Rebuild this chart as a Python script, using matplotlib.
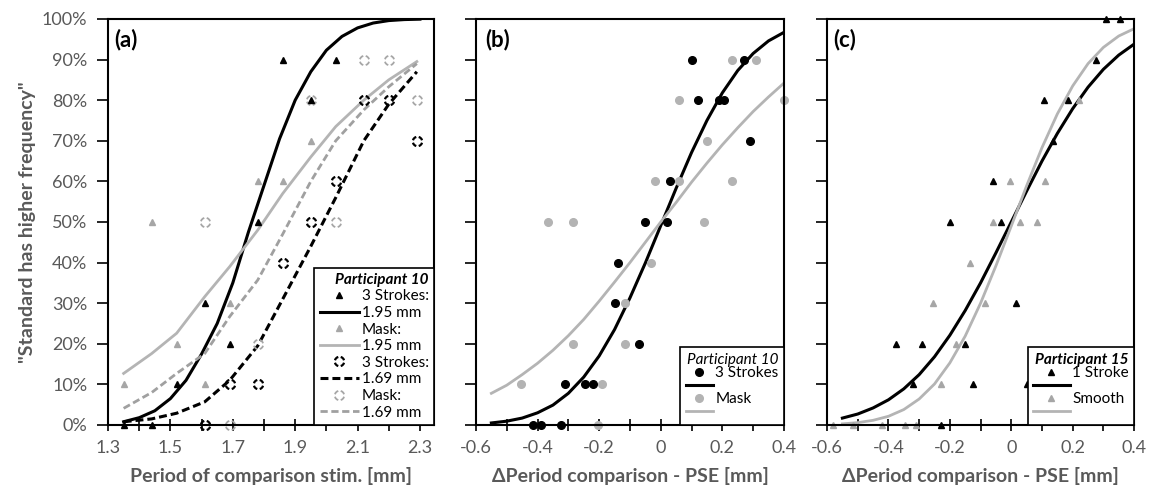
import numpy as np
import matplotlib
matplotlib.use('Agg')
import matplotlib.pyplot as plt
from matplotlib.path import Path
from matplotlib.ticker import PercentFormatter, FuncFormatter

plt.rcParams['font.family'] = ['Lato', 'DejaVu Sans']
plt.rcParams['axes.unicode_minus'] = False

GRAY_TXT = '#595959'
GRAY_MK = '#a6a6a6'
GRAY_LN = '#b4b4b4'
GRAY_DASH = '#a0a0a0'

# ---------------- panel (a) data ----------------
a_tri_x = [1.35, 1.44, 1.52, 1.61, 1.69, 1.78, 1.86, 1.95, 2.03]
a_tri_y = [0, 0, 10, 30, 20, 50, 90, 80, 90]
a_gtri_x = [1.35, 1.44, 1.52, 1.61, 1.69, 1.78, 1.86, 1.95]
a_gtri_y = [10, 50, 20, 10, 30, 60, 60, 70]
a_circ_x = [1.61, 1.69, 1.78, 1.86, 1.95, 2.03, 2.12, 2.20, 2.29]
a_circ_y = [0, 10, 10, 40, 50, 60, 80, 80, 70]
a_gcirc_x = [1.61, 1.69, 1.78, 1.95, 2.03, 2.12, 2.20, 2.29]
a_gcirc_y = [50, 0, 20, 80, 50, 90, 90, 80]

# fitted curves
a_fit1_x = [1.35, 1.40, 1.45, 1.50, 1.55, 1.60, 1.65, 1.70, 1.75, 1.80,
            1.85, 1.90, 1.95, 2.00, 2.05, 2.10, 2.15, 2.20, 2.25, 2.30]
a_fit1_y = [0.8, 1.8, 3.5, 6.5, 11, 17.5, 25, 35, 47.5, 59,
            70.5, 80, 87, 92.3, 95.7, 97.8, 99, 99.6, 99.85, 99.95]
a_fit_x = [1.35, 1.44, 1.52, 1.61, 1.69, 1.78, 1.86, 1.95, 2.03, 2.12, 2.20, 2.29]
a_fit2_y = [12.7, 17.6, 22.6, 31.6, 39, 48, 57, 66, 73.5, 80, 85, 89.5]   # mask 1.95
a_fit3_y = [0.8, 1.5, 2.9, 5.7, 11, 19.5, 31, 44, 56, 70, 79, 87]       # 3 strokes 1.69
a_fit4_y = [4.1, 8, 12.7, 17.6, 26.7, 35.7, 47, 60, 70, 77.6, 83.3, 89]  # mask 1.69

# ---------------- panel (b) data ----------------
b_blk_x = [0.10, 0.27, 0.12, 0.19, 0.205, 0.29, 0.03, -0.05, 0.02, -0.14,
           -0.15, -0.07, -0.31, -0.245, -0.22, -0.415, -0.39, -0.325]
b_blk_y = [90, 90, 80, 80, 80, 70, 60, 50, 50, 40, 30, 20, 10, 10, 10, 0, 0, 0]
b_gry_x = [0.23, 0.31, 0.06, 0.40, 0.15, -0.02, 0.06, 0.23, -0.365, -0.285,
           0.14, -0.03, -0.115, -0.115, -0.285, -0.455, -0.19, -0.205]
b_gry_y = [90, 90, 80, 80, 70, 60, 60, 60, 50, 50, 50, 40, 30, 20, 20, 10, 10, 0]

fit_x = [-0.55, -0.50, -0.45, -0.40, -0.35, -0.30, -0.25, -0.20, -0.15, -0.10,
         -0.05, 0.00, 0.05, 0.10, 0.15, 0.20, 0.25, 0.30, 0.35, 0.40]
b_fit_blk = [0.5, 0.94, 1.7, 3.0, 4.9, 7.8, 11.8, 17.0, 23.5, 31.3,
             39.9, 49.1, 58.3, 67.1, 75.0, 81.8, 87.3, 91.5, 94.6, 96.7]
b_fit_gry = [7.8, 9.8, 12.4, 15.2, 18.4, 22.0, 26.0, 30.5, 35.2, 40.0,
             45.0, 50.0, 54.8, 59.8, 64.5, 69.0, 73.2, 77.2, 80.8, 84.2]

# ---------------- panel (c) data ----------------
c_blk_x = [0.31, 0.355, 0.275, 0.105, 0.185, 0.135, -0.06, -0.20, -0.035,
           0.015, -0.375, -0.29, -0.15, -0.32, -0.125, 0.05, -0.23]
c_blk_y = [100, 100, 90, 80, 80, 70, 60, 50, 50, 30, 20, 20, 20, 10, 10, 10, 0]
c_gry_x = [0.22, -0.005, 0.11, -0.06, 0.03, 0.085, -0.135, -0.255, -0.085,
           -0.18, -0.23, -0.58, -0.515, -0.42, -0.345, -0.31]
c_gry_y = [80, 60, 60, 50, 50, 50, 40, 30, 30, 20, 10, 0, 0, 0, 0, 0]

c_fit_blk = [1.7, 2.7, 4.2, 6.2, 8.9, 12.4, 16.8, 22.1, 28.2, 35.0,
             42.4, 50.0, 57.6, 65.0, 71.8, 77.9, 83.2, 87.6, 91.1, 93.8]
c_fit_gry = [0.28, 0.58, 1.15, 2.14, 3.8, 6.4, 10.1, 15.3, 21.9, 30.0,
             39.2, 49.0, 58.9, 68.3, 76.6, 83.5, 89.0, 93.0, 95.8, 97.6]

a_ticks = [1.3, 1.5, 1.7, 1.9, 2.1, 2.3]
a_minor = [1.4, 1.6, 1.8, 2.0, 2.2]
d_ticks = [-0.6, -0.4, -0.2, 0, 0.2, 0.4]
d_minor = [-0.5, -0.3, -0.1, 0.1, 0.3]

# dashed-circle marker
arcs = [Path.arc(a, a + 60) for a in (15, 105, 195, 285)]
dash_circle = Path.make_compound_path(*arcs)

fig = plt.figure(figsize=(11.53, 5.03), dpi=100)
ax_a = fig.add_axes([0.0937, 0.1551, 0.2827, 0.8072])
ax_b = fig.add_axes([0.4128, 0.1551, 0.2671, 0.8072])
ax_c = fig.add_axes([0.7173, 0.1551, 0.2663, 0.8072])


def style(ax, major, minor, xlim, ylabels):
    ax.set_xlim(*xlim)
    ax.set_ylim(0, 100)
    ax.set_xticks(major)
    ax.set_xticks(minor, minor=True)
    ax.set_yticks(range(0, 101, 10))
    ax.xaxis.set_major_formatter(FuncFormatter(lambda v, p: f'{v:g}'))
    ax.tick_params(axis='x', which='both', direction='inout', length=9, width=1.2,
                   labelsize=13, labelcolor=GRAY_TXT, pad=6)
    ax.tick_params(axis='y', direction='out', length=8, width=1.2,
                   labelsize=13, labelcolor=GRAY_TXT, pad=7)
    for s in ax.spines.values():
        s.set_linewidth(1.5)
    if ylabels:
        ax.yaxis.set_major_formatter(PercentFormatter(100, decimals=0))
    else:
        ax.tick_params(axis='y', labelleft=False)


def make_legend(ax, handles, labels, title, tweight, hlen, lspace):
    leg = ax.legend(handles, labels, loc='lower right', bbox_to_anchor=(1, 0),
                    borderaxespad=0, fancybox=False, edgecolor='black', framealpha=1,
                    fontsize=11, title=title,
                    title_fontproperties={'weight': tweight, 'style': 'italic', 'size': 11},
                    handlelength=hlen, handletextpad=0.15, labelspacing=lspace,
                    borderpad=0.35, alignment='right')
    leg.get_frame().set_linewidth(1.2)
    return leg


# ---- (a) ----
l1, = ax_a.plot(a_fit1_x, a_fit1_y, color='black', lw=2.2, label='1.95 mm')
l2, = ax_a.plot(a_fit_x, a_fit2_y, color=GRAY_LN, lw=2.0, label='1.95 mm')
l3, = ax_a.plot(a_fit_x, a_fit3_y, color='black', lw=2.2, dashes=(2.6, 1.3), label='1.69 mm')
l4, = ax_a.plot(a_fit_x, a_fit4_y, color=GRAY_DASH, lw=2.0, dashes=(2.6, 1.3), label='1.69 mm')
m1, = ax_a.plot(a_tri_x, a_tri_y, '^', color='black', ms=5, ls='none', clip_on=False, label='3 Strokes:')
m2, = ax_a.plot(a_gtri_x, a_gtri_y, '^', color=GRAY_MK, ms=5, ls='none', clip_on=False, label='Mask:')
m3, = ax_a.plot(a_circ_x, a_circ_y, marker=dash_circle, color='black', mfc='none', mew=1.6,
                ms=6.5, ls='none', clip_on=False, label='3 Strokes:')
m4, = ax_a.plot(a_gcirc_x, a_gcirc_y, marker=dash_circle, color=GRAY_MK, mfc='none', mew=1.3,
                ms=6.5, ls='none', clip_on=False, label='Mask:')
m1.set_zorder(4)
style(ax_a, a_ticks, a_minor, (1.3, 2.345), True)
make_legend(ax_a, [m1, l1, m2, l2, m3, l3, m4, l4],
            ['3 Strokes:', '1.95 mm', 'Mask:', '1.95 mm', '3 Strokes:', '1.69 mm', 'Mask:', '1.69 mm'],
            'Participant 10', 'bold', 2.6, 0.17)
ax_a.set_ylabel('"Standard has higher frequency"', fontsize=14, fontweight='bold',
                color=GRAY_TXT, labelpad=4)
ax_a.set_xlabel('Period of comparison stim. [mm]', fontsize=14, fontweight='bold',
                color=GRAY_TXT, labelpad=8)
ax_a.text(0.02, 0.975, '(a)', transform=ax_a.transAxes, fontsize=16, fontweight='bold',
          va='top', ha='left')

# ---- (b) ----
lb1, = ax_b.plot(fit_x, b_fit_blk, color='black', lw=2.2)
lb2, = ax_b.plot(fit_x, b_fit_gry, color=GRAY_LN, lw=2.0)
mb2, = ax_b.plot(b_gry_x, b_gry_y, 'o', color='#b3b3b3', ms=5.5, ls='none', clip_on=False)
mb1, = ax_b.plot(b_blk_x, b_blk_y, 'o', color='black', ms=5.5, ls='none', clip_on=False)
style(ax_b, d_ticks, d_minor, (-0.6, 0.4), False)
make_legend(ax_b, [mb1, lb1, mb2, lb2], ['3 Strokes', '', 'Mask', ''],
            'Participant 10', 'normal', 1.8, -0.05)
ax_b.set_xlabel('\u0394Period comparison - PSE [mm]', fontsize=14, fontweight='bold',
                color=GRAY_TXT, labelpad=8)
ax_b.text(0.03, 0.975, '(b)', transform=ax_b.transAxes, fontsize=16, fontweight='bold',
          va='top', ha='left')

# ---- (c) ----
lc1, = ax_c.plot(fit_x, c_fit_blk, color='black', lw=2.2)
lc2, = ax_c.plot(fit_x, c_fit_gry, color=GRAY_LN, lw=2.0)
mc2, = ax_c.plot(c_gry_x, c_gry_y, '^', color=GRAY_MK, ms=5, ls='none', clip_on=False)
mc1, = ax_c.plot(c_blk_x, c_blk_y, '^', color='black', ms=5, ls='none', clip_on=False)
style(ax_c, d_ticks, d_minor, (-0.6, 0.4), False)
make_legend(ax_c, [mc1, lc1, mc2, lc2], ['1 Stroke', '', 'Smooth', ''],
            'Participant 15', 'bold', 2.4, -0.05)
ax_c.set_xlabel('\u0394Period comparison - PSE [mm]', fontsize=14, fontweight='bold',
                color=GRAY_TXT, labelpad=8)
ax_c.text(0.02, 0.975, '(c)', transform=ax_c.transAxes, fontsize=16, fontweight='bold',
          va='top', ha='left')

fig.savefig('out.png', dpi=100)
